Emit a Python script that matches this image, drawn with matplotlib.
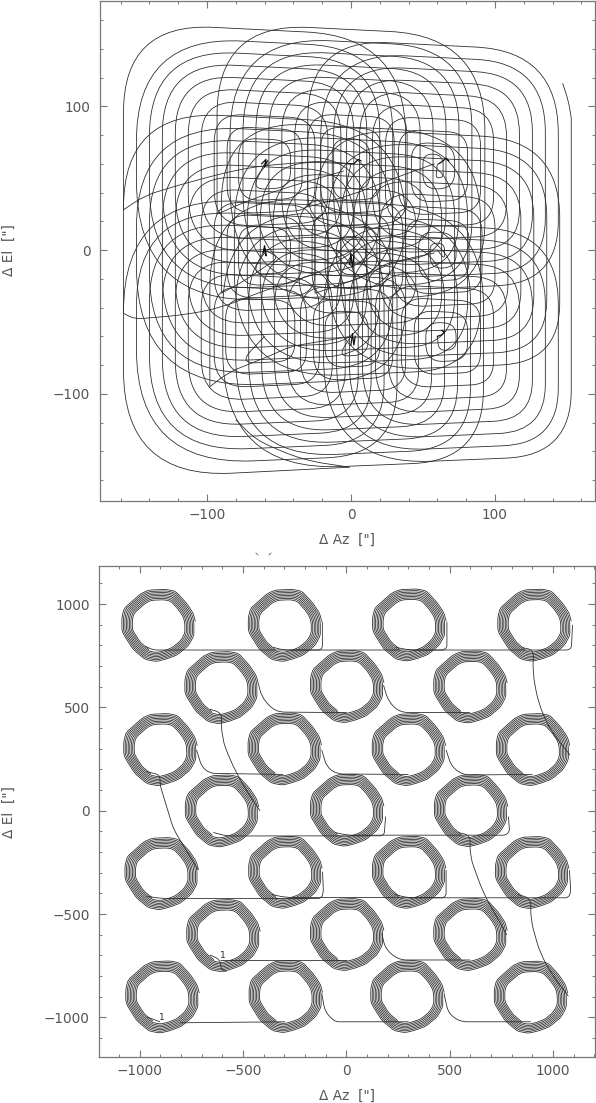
import numpy as np
import matplotlib
matplotlib.use("Agg")
import matplotlib.pyplot as plt
from matplotlib.path import Path
from matplotlib.patches import PathPatch
from matplotlib.lines import Line2D
from matplotlib.ticker import MultipleLocator

# ---------- top panel: nine spiral scans ----------
SPIRAL_CX = [-60, 0, 60, -60, 0, 60, -60, 0, 60]
SPIRAL_CY = [60, 60, 60, 0, 0, 0, -60, -60, -60]
HALF_LEFT = [98, 93, 90, 98, 90, 85, 107, 98, 88]
HALF_RIGHT = [98, 93, 84, 98, 90, 85, 101, 92, 93]
HALF_TOP = [98, 98, 87, 97, 90, 85, 107, 98, 90]
HALF_BOTTOM = [98, 98, 90, 97, 90, 85, 99, 94, 90]
RING_INSET = [0, 9, 18, 27, 36, 45, 54, 63, 72, 80]
START_X = [-158, -93, -30, -158, -90, -25, -1, -98, 153]
START_Y = [28, 25, 30, -44, -30, -30, -151, -95, 92]
START_CORNER = [0, 0, 0, 0, 0, 0, 3, 0, 2]

TAIL_1 = [(-158, 28), (-143, 38), (-110, 48), (-70, 58), (-20, 62), (0, 60)]
TAIL_2 = [(-158, -44), (-150, -48), (-115, -45), (-90, -40), (-60, -28), (-20, -15), (0, -2)]
TAIL_3 = [(-98, -95), (-85, -85), (-55, -73), (-42, -67), (0, -60)]
TAIL_4 = [(-93, 25), (-70, 35), (-40, 45), (-5, 55)]
TAIL_5 = [(-30, 30), (0, 38), (30, 50), (58, 60)]
TAIL_6 = [(-90, -30), (-75, -22), (-50, -5), (-60, 0)]
TAIL_7 = [(-25, -30), (5, -20), (30, -8), (58, -2)]
TAIL_8 = [(-1, -151), (-34, -146), (-66, -132), (-80, -118)]
TAIL_9 = [(147, 116), (151, 104), (153, 92)]
TAILS = [TAIL_1, TAIL_2, TAIL_3, TAIL_4, TAIL_5, TAIL_6, TAIL_7, TAIL_8, TAIL_9]

MARK_1 = [(61, 60), (64, 62), (66, 64), (68, 62)]
MARK_2 = [(-2, 60), (2, 60), (5, 63), (7, 62)]
MARK_3 = [(-62, 60), (-59, 63), (-60, 58), (-58, 62)]
MARK_4 = [(-61, -2), (-60, 3), (-59, -4), (-60, 1)]
MARK_5 = [(-1, -10), (0, -3), (1, -12), (2, -4)]
MARK_6 = [(60, -60), (63, -59), (65, -57), (63, -56)]
MARK_7 = [(0, -66), (1, -58), (2, -66), (3, -60)]
MARKS = [MARK_1, MARK_2, MARK_3, MARK_4, MARK_5, MARK_6, MARK_7]

# ---------- bottom panel: pods and connecting slews ----------
POD_X = [-911, -299, 303, 909, -606, 2, 599, -902, -300, 301, 902,
         -604, 2, 602, -896, -297, 302, 898, -597, 2, 599, -892, -295, 294, 892]
POD_Y = [896, 896, 898, 897, 595, 600, 598, 295, 298, 295, 295,
         -2, 2, 0, -305, -299, -299, -300, -605, -600, -600, -902, -900, -900, -903]
POD_OUTLINE = [(-65, -168), (-125, -117), (-167, -50), (-179, -25), (-179, 40), (-167, 85),
               (-85, 157), (-45, 174), (40, 177), (85, 167), (137, 110), (170, 60),
               (180, 20), (180, -50), (152, -100), (95, -147), (40, -167), (-10, -179)]
POD_INNER = 0.69
POD_TURNS = 7
POD_END_VERTEX = 13

SLEW_A1 = [(-975, 797), (-935, 778), (-128, 778), (-116, 790), (-116, 915)]
SLEW_A2 = [(-353, 791), (-305, 778), (470, 778), (487, 790), (487, 915)]
SLEW_A3 = [(240, 791), (303, 778), (1075, 778), (1090, 790), (1095, 900)]
SLEW_A4 = [(850, 790), (906, 778), (903, 665), (930, 520), (987, 391), (1083, 270)]
SLEW_B1 = [(-660, 491), (-604, 474), (-604, 358), (-563, 245), (-491, 108), (-418, 0)]
SLEW_B2 = [(-426, 616), (-410, 552), (-346, 478), (2, 475)]
SLEW_B3 = [(180, 608), (204, 528), (260, 476), (599, 476)]
SLEW_C1 = [(-967, 190), (-902, 173), (-902, 125), (-838, -85), (-805, -142), (-717, -287)]
SLEW_C2 = [(-725, 294), (-700, 213), (-660, 181), (-305, 176)]
SLEW_C3 = [(-119, 294), (-95, 213), (-46, 178), (301, 176)]
SLEW_C4 = [(483, 294), (510, 213), (567, 173), (901, 176)]
SLEW_D1 = [(-644, -105), (-580, -122), (172, -121), (184, -110), (190, -28)]
SLEW_D2 = [(-55, -105), (2, -118), (772, -118), (790, -100), (785, -28)]
SLEW_D3 = [(540, -105), (599, -118), (599, -222), (664, -400), (728, -513), (777, -601)]
SLEW_E1 = [(-967, -413), (-902, -424), (-120, -424), (-111, -392), (-115, -295)]
SLEW_E2 = [(-360, -405), (-297, -419), (470, -421), (483, -408), (483, -287)]
SLEW_E3 = [(235, -405), (296, -421), (1075, -421), (1087, -392), (1080, -287)]
SLEW_E4 = [(830, -405), (893, -424), (893, -529), (938, -690), (1003, -803), (1075, -897)]
SLEW_F1 = [(-660, -698), (-612, -719), (-604, -771), (-580, -778)]
SLEW_F2 = [(-612, -722), (2, -722)]
SLEW_F3 = [(172, -593), (188, -666), (252, -722), (599, -722)]
SLEW_G1 = [(-967, -997), (-902, -1021)]
SLEW_G2 = [(-805, -1026), (-297, -1021)]
SLEW_G3 = [(-119, -884), (-103, -972), (-63, -1013), (-46, -1021), (301, -1021)]
SLEW_G4 = [(473, -884), (494, -980), (551, -1021), (893, -1021)]
SLEWS = [SLEW_A1, SLEW_A2, SLEW_A3, SLEW_A4, SLEW_B1, SLEW_B2, SLEW_B3, SLEW_C1, SLEW_C2,
         SLEW_C3, SLEW_C4, SLEW_D1, SLEW_D2, SLEW_D3, SLEW_E1, SLEW_E2, SLEW_E3, SLEW_E4,
         SLEW_F1, SLEW_F2, SLEW_F3, SLEW_G1, SLEW_G2, SLEW_G3, SLEW_G4]

LABEL_X = [-598, -894]
LABEL_Y = [-698, -1000]
LABEL_TEXT = ["1", "1"]

# ---------- styles ----------
W, H = 596, 1103
LINE = "#2a2a2a"
LW = 0.58
FRAME = "#777777"
TEXT = "#555555"
FS = 9.8
CORNER_BASE = [10, 10, 10, 10]            # TL, TR, BR, BL rounding
CORNER_SLOPE = [0.78, 0.6, 0.42, 0.78]
ROUND_REF = 98


def rounded_path(pts, radii):
    pts = [np.asarray(p, float) for p in pts]
    verts = [pts[0]]
    codes = [Path.MOVETO]
    for i in range(1, len(pts) - 1):
        a, b, c = pts[i - 1], pts[i], pts[i + 1]
        lab, lbc = np.linalg.norm(b - a), np.linalg.norm(c - b)
        if lab == 0 or lbc == 0:
            continue
        r = min(radii[i], lab * 0.48, lbc * 0.48)
        verts += [b - (b - a) / lab * r, b, b + (c - b) / lbc * r]
        codes += [Path.LINETO, Path.CURVE3, Path.CURVE3]
    verts.append(pts[-1])
    codes.append(Path.LINETO)
    return Path(verts, codes)


def smooth_path(pts):
    return rounded_path(pts, [1e4] * len(pts))


def spiral_points(i):
    cx, cy = SPIRAL_CX[i], SPIRAL_CY[i]
    hl, hr, ht, hb = HALF_LEFT[i], HALF_RIGHT[i], HALF_TOP[i], HALF_BOTTOM[i]
    seq, radii = [(START_X[i], START_Y[i])], [0]
    for k, ins in enumerate(RING_INSET):
        nxt = RING_INSET[k + 1] if k + 1 < len(RING_INSET) else ins + 9
        size = (hl + hr + ht + hb) / 4 - ins
        l, r = cx - hl + ins, cx + hr - ins
        t, b = cy + ht - ins, cy - hb + ins
        l2 = cx - hl + nxt
        corners = [(l, t), (r, t - 0.05 * (r - l)), (r, b + 0.04 * (r - l)), (l2, b)]
        order = [0, 1, 2, 3]
        if k == 0:
            order = order[START_CORNER[i]:]
        for c in order:
            seq.append(corners[c])
            radii.append(CORNER_BASE[c] + CORNER_SLOPE[c] * size * size / ROUND_REF)
    seq.append((cx, cy))
    radii.append(0)
    return seq, radii


def pod_path(cx, cy):
    n = len(POD_OUTLINE)
    total = POD_TURNS * n + POD_END_VERTEX
    scales = np.linspace(POD_INNER, 1.0, total)
    pts = [(cx + POD_OUTLINE[j % n][0] * s, cy + POD_OUTLINE[j % n][1] * s)
           for j, s in enumerate(scales)]
    return rounded_path(pts, [14] * len(pts))


def style_axes(ax, major, minor):
    for s in ax.spines.values():
        s.set_color(FRAME)
        s.set_linewidth(0.9)
    ax.xaxis.set_major_locator(MultipleLocator(major))
    ax.xaxis.set_minor_locator(MultipleLocator(minor))
    ax.yaxis.set_major_locator(MultipleLocator(major))
    ax.yaxis.set_minor_locator(MultipleLocator(minor))
    ax.tick_params(which="major", direction="in", length=5, width=0.8, color=FRAME,
                   top=True, right=True, labelsize=FS, labelcolor=TEXT)
    ax.tick_params(axis="x", which="major", pad=5)
    ax.tick_params(axis="y", which="major", pad=7)
    ax.tick_params(which="minor", direction="in", length=2.5, width=0.7, color=FRAME,
                   top=True, right=True)


def make_axes(left, top, right, bottom):
    return fig.add_axes([left / W, 1 - bottom / H, (right - left) / W, (bottom - top) / H])


fig = plt.figure(figsize=(W / 100, H / 100), dpi=100, facecolor="white")

# top panel
ax1 = make_axes(100, 1, 595, 501)
ax1.set_xlim(-174.3, 169.5)
ax1.set_ylim(-174.5, 173.2)
style_axes(ax1, 100, 20)
for i in range(len(SPIRAL_CX)):
    seq, radii = spiral_points(i)
    ax1.add_patch(PathPatch(rounded_path(seq, radii), fill=False, ec=LINE, lw=LW))
for tail in TAILS:
    ax1.add_patch(PathPatch(smooth_path(tail), fill=False, ec=LINE, lw=LW))
for mark in MARKS:
    xs, ys = zip(*mark)
    ax1.plot(xs, ys, color="#111111", lw=0.9)

# bottom panel
ax2 = make_axes(99.3, 565.7, 595, 1056.7)
ax2.set_xlim(-1196, 1204)
ax2.set_ylim(-1190, 1186)
style_axes(ax2, 500, 100)
for x, y in zip(POD_X, POD_Y):
    ax2.add_patch(PathPatch(pod_path(x, y), fill=False, ec=LINE, lw=LW))
for slew in SLEWS:
    ax2.add_patch(PathPatch(rounded_path(slew, [60] * len(slew)), fill=False, ec=LINE, lw=LW))
for x, y, s in zip(LABEL_X, LABEL_Y, LABEL_TEXT):
    ax2.text(x, y, s, fontsize=6.5, color=LINE, ha="center", va="center")

# axis titles
for px, py, s, rot in [(347, 540, "Δ Az  [\"]", 0), (9, 250, "Δ El  [\"]", 90),
                       (347, 1096, "Δ Az  [\"]", 0), (9, 812, "Δ El  [\"]", 90)]:
    fig.text(px / W, 1 - py / H, s, fontsize=FS, color=TEXT, rotation=rot,
             ha="center", va="center")

# remnants of a clipped caption between the panels
for x0, y0, x1, y1 in [(256, 553, 258, 555), (271, 553, 269, 555)]:
    fig.add_artist(Line2D([x0 / W, x1 / W], [1 - y0 / H, 1 - y1 / H], color="#666666", lw=0.6))

fig.savefig("out.png", dpi=100)
